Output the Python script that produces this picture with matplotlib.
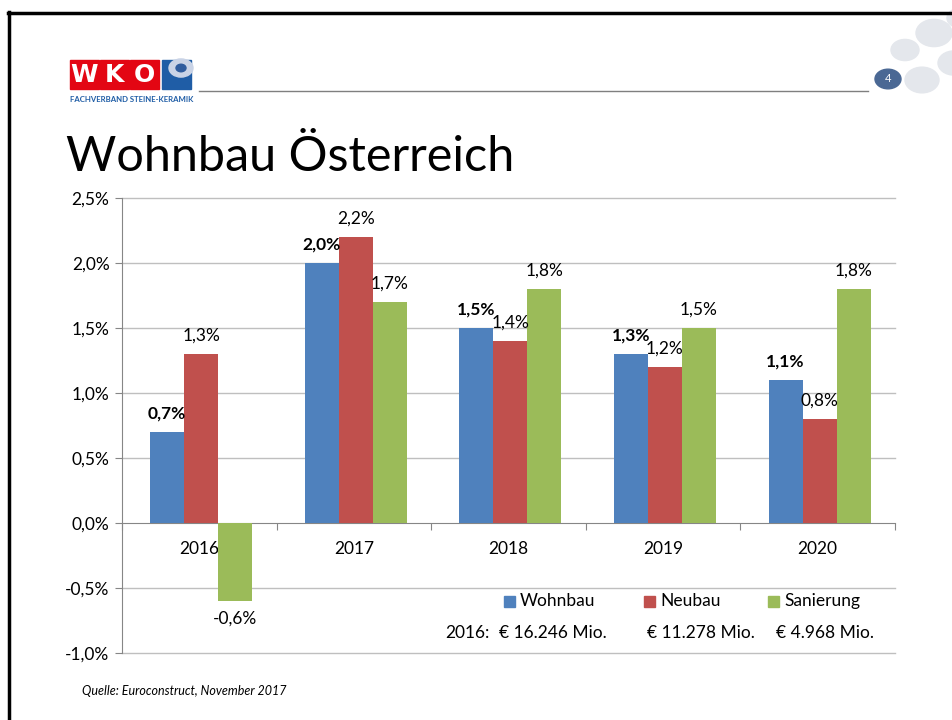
import matplotlib
matplotlib.use("Agg")
import matplotlib.pyplot as plt
import numpy as np
from matplotlib.patches import Rectangle, Circle
from matplotlib.lines import Line2D
from matplotlib.ticker import FixedLocator

plt.rcParams['font.family'] = ['Lato', 'DejaVu Sans']

years = ["2016", "2017", "2018", "2019", "2020"]
series_names = ["Wohnbau", "Neubau", "Sanierung"]
wohnbau = [0.7, 2.0, 1.5, 1.3, 1.1]
neubau = [1.3, 2.2, 1.4, 1.2, 0.8]
sanierung = [-0.6, 1.7, 1.8, 1.5, 1.8]
colors = ["#4F81BD", "#C0504D", "#9BBB59"]
yticks = [-1.0, -0.5, 0.0, 0.5, 1.0, 1.5, 2.0, 2.5]
volumes = ["€ 16.246 Mio.", "€ 11.278 Mio.", "€ 4.968 Mio."]

W, H = 953, 720
fig = plt.figure(figsize=(W / 100, H / 100), dpi=100)

def fx(x):
    return x / W

def fy(y):
    return 1 - y / H

FS = 12.5

# slide border
fig.add_artist(Line2D([fx(9.5), fx(9.5)], [fy(12), 0], color="black", lw=2.5))
fig.add_artist(Line2D([fx(8), 1], [fy(12.5), fy(12.5)], color="black", lw=2.5))

# decorative circles top right
for cx, cy, r in [(934, 33, 18), (905, 50, 14), (922, 80, 17), (954, 63, 16), (960, 18, 13)]:
    fig.add_artist(Circle((fx(cx), fy(cy)), r / W, transform=fig.transFigure,
                          color="#E4E7EC", zorder=1))
# page number circle
fig.add_artist(Circle((fx(888), fy(79)), 13 / W, transform=fig.transFigure,
                      color="#4A6894", zorder=2))
fig.text(fx(888), fy(79), "4", color="white", fontsize=8, ha="center", va="center", zorder=3)

# header line
fig.add_artist(Line2D([fx(199), fx(868)], [fy(91), fy(91)], color="#7F7F7F", lw=1))

# logo
for i, ch in enumerate("WKO"):
    x0 = 70 + i * 30
    fig.add_artist(Rectangle((fx(x0), fy(89)), 29 / W, 29 / H, transform=fig.transFigure,
                             color="#E30613", zorder=2))
    fig.text(fx(x0 + 14.5), fy(74.5), ch, color="white", fontsize=18, fontweight="bold",
             family="DejaVu Sans", ha="center", va="center", zorder=3)
fig.add_artist(Rectangle((fx(162), fy(89)), 29 / W, 29 / H, transform=fig.transFigure,
                         color="#1F5DA6", zorder=2))
fig.add_artist(Circle((fx(181), fy(68)), 12 / W, transform=fig.transFigure,
                      color="#C9D3E6", zorder=3))
fig.add_artist(Circle((fx(181), fy(68)), 5 / W, transform=fig.transFigure,
                      color="#2F5C9E", zorder=4))
fig.text(fx(70), fy(99), "FACHVERBAND STEINE-KERAMIK", color="#1F5DA6", fontsize=5.6,
         fontweight="bold", ha="left", va="center")

# title
fig.text(fx(66), fy(157), "Wohnbau Österreich", fontsize=35, fontweight="normal",
         ha="left", va="center", color="black")

# axes
ax = fig.add_axes([fx(122), fy(653), (895 - 122) / W, (653 - 198) / H])
x = np.arange(len(years))
bw = 0.22
data = [wohnbau, neubau, sanierung]
for k, (vals, col, name) in enumerate(zip(data, colors, series_names)):
    xs = x + (k - 1) * bw + 0.012
    ax.bar(xs, vals, width=bw, color=col, label=name, zorder=3)
    for xi, v in zip(xs, vals):
        lab = f"{v:.1f}%".replace(".", ",")
        off = 13 if v >= 0 else -13
        ax.annotate(lab, (xi, v), xytext=(0, off), textcoords="offset points",
                    ha="center", va="center", fontsize=FS,
                    fontweight="bold" if k == 0 else "normal", zorder=4)

ax.set_xlim(-0.5, len(years) - 0.5)
ax.set_ylim(-1.0, 2.5)
ax.set_yticks(yticks)
ax.set_yticklabels([f"{t:.1f}%".replace(".", ",") for t in yticks], fontsize=FS)
ax.yaxis.grid(False)
for t in yticks:
    if t != 0:
        ax.axhline(t, color="#BFBFBF", lw=1, zorder=0, clip_on=False)
ax.tick_params(axis="y", length=5, color="#868686", pad=4)

for s in ["top", "right"]:
    ax.spines[s].set_visible(False)
ax.spines["left"].set_color("#868686")
ax.spines["bottom"].set_position(("data", 0))
ax.spines["bottom"].set_color("#868686")
ax.spines["bottom"].set_zorder(2)

ax.xaxis.set_major_locator(FixedLocator(np.arange(-0.5, len(years), 1.0)))
ax.xaxis.set_minor_locator(FixedLocator(x))
ax.set_xticklabels([], minor=False)
ax.set_xticklabels(years, minor=True, fontsize=FS)
ax.tick_params(axis="x", which="major", length=5, color="#868686", direction="out")
ax.tick_params(axis="x", which="minor", length=0, pad=13)

# legend
for lx, col, name in zip([504, 644, 768], colors, series_names):
    fig.add_artist(Rectangle((fx(lx), fy(607)), 11 / W, 11 / H, transform=fig.transFigure,
                             color=col))
    fig.text(fx(lx + 16), fy(601), name, fontsize=FS, ha="left", va="center")
fig.text(fx(445), fy(633), "2016:", fontsize=FS, ha="left", va="center")
for vx, vol in zip([499, 647, 776], volumes):
    fig.text(fx(vx), fy(633), vol, fontsize=FS, ha="left", va="center")

fig.text(fx(82), fy(691), "Quelle: Euroconstruct, November 2017", fontsize=9,
         style="italic", ha="left", va="center")

fig.savefig("out.png", dpi=100)
